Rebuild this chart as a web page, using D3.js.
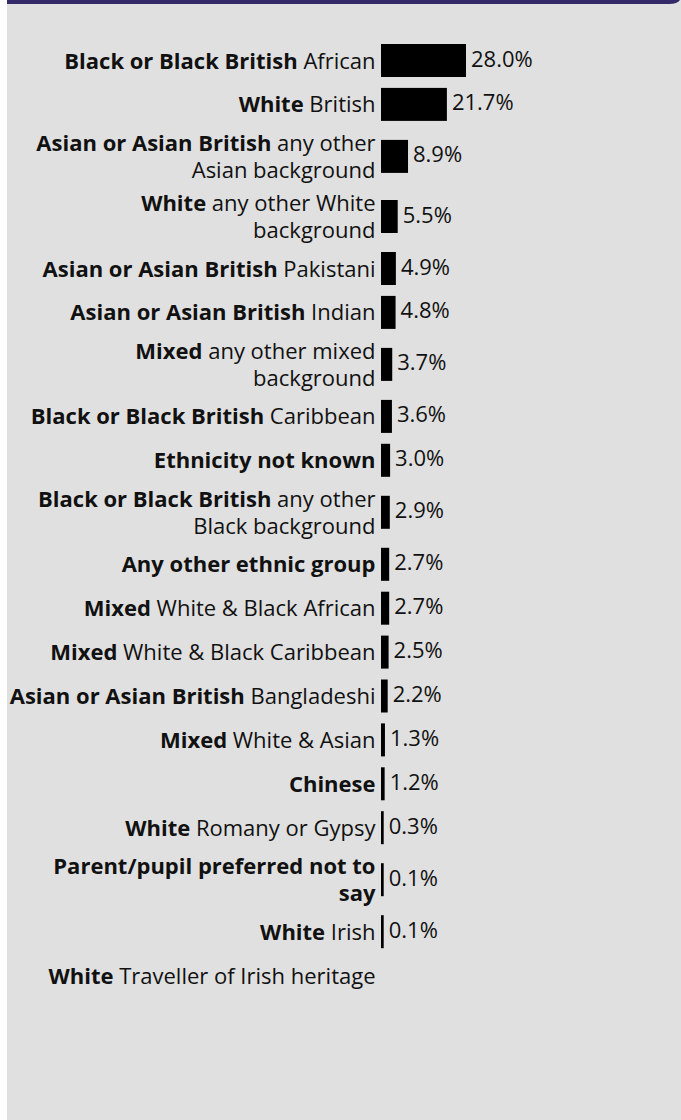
<!DOCTYPE html>
<html lang="en">
	<head>
		<meta charset="utf-8">
		<title>Pupils by ethnicity</title>
		<script src="https://cdn.jsdelivr.net/npm/d3@7"></script>
		<style>
			body { margin: 0; background: #ffffff; }
			svg { display: block; font-family: "Open Sans", sans-serif; }
		</style>
	</head>
	<body>
		<script type="text/javascript">

			//    Data: bold group name, detail text ("\n" = line break), share in %
			var groups = [
				"Black or Black British", "White", "Asian or Asian British", "White",
				"Asian or Asian British", "Asian or Asian British", "Mixed", "Black or Black British",
				"Ethnicity not known", "Black or Black British", "Any other ethnic group", "Mixed",
				"Mixed", "Asian or Asian British", "Mixed", "Chinese",
				"White", "Parent/pupil preferred not to\nsay", "White", "White"
			];
			var details = [
				"African", "British", "any other\nAsian background", "any other White\nbackground",
				"Pakistani", "Indian", "any other mixed\nbackground", "Caribbean",
				"", "any other\nBlack background", "", "White & Black African",
				"White & Black Caribbean", "Bangladeshi", "White & Asian", "",
				"Romany or Gypsy", "", "Irish", "Traveller of Irish heritage"
			];
			var values = [
				28.0, 21.7, 8.9, 5.5,
				4.9, 4.8, 3.7, 3.6,
				3.0, 2.9, 2.7, 2.7,
				2.5, 2.2, 1.3, 1.2,
				0.3, 0.1, 0.1, null
			];

			var w = 681;
			var h = 1120;
			var panelLeft = 7;
			var labelRight = 375.5;
			var barLeft = 381;
			var barH = 33;
			var rowGap = 10.9;
			var lineH = 27;
			var fontSize = 22;

			var svg = d3.select("body").append("svg").attr("width", w).attr("height", h);

			//    Grey panel + purple band on top
			svg.append("rect")
				.attr("x", panelLeft).attr("y", 0)
				.attr("width", w - panelLeft).attr("height", h)
				.attr("fill", "#e0e0e0");

			var r = 12;
			svg.append("path")
				.attr("d", "M" + panelLeft + ",0 H" + w + " V" + (4 - r + 4) +
					" Q" + w + ",4 " + (w - r) + ",4 H" + panelLeft + " Z")
				.attr("fill", "#342a6a");

			//    Turn each category into lines of {text, bold} pieces
			var rows = groups.map(function(g, i) {
				var gl = g.split("\n");
				var dl = details[i] ? details[i].split("\n") : [];
				var lines = [];
				gl.forEach(function(t) { lines.push([{text: t, bold: true}]); });
				dl.forEach(function(t, k) {
					if (k == 0) lines[lines.length - 1].push({text: " " + t, bold: false});
					else lines.push([{text: t, bold: false}]);
				});
				return {lines: lines, value: values[i]};
			});

			//    Row positions: two-line rows are taller than the bar
			var rowTop = 44;
			rows.forEach(function(d) {
				var rh = d.lines.length > 1 ? 49.2 : barH;
				d.mid = rowTop + rh / 2;
				rowTop += rh + rowGap;
			});

			var xScale = d3.scaleLinear()
				.domain([0, d3.max(values)])
				.range([0, 85]);

			var row = svg.selectAll("g.row")
				.data(rows)
				.enter()
				.append("g")
				.attr("class", "row");

			//    Labels, right aligned against the bars
			row.each(function(d) {
				var g = d3.select(this);
				var n = d.lines.length;
				d.lines.forEach(function(line, k) {
					var t = g.append("text")
						.attr("x", labelRight)
						.attr("y", d.mid + 8 + (k - (n - 1) / 2) * lineH)
						.attr("text-anchor", "end")
						.attr("font-size", fontSize)
						.attr("fill", "#111");
					line.forEach(function(p) {
						t.append("tspan")
							.attr("font-weight", p.bold ? 700 : 400)
							.style("white-space", "pre")
							.text(p.text);
					});
				});
			});

			var withValue = row.filter(function(d) { return d.value != null; });

			withValue.append("rect")
				.attr("x", barLeft)
				.attr("y", function(d) { return d.mid - barH / 2; })
				.attr("width", function(d) { return Math.max(xScale(d.value), 2.7); })
				.attr("height", barH)
				.attr("fill", "#000");

			withValue.append("text")
				.attr("x", function(d) { return barLeft + Math.max(xScale(d.value), 2.7) + 5; })
				.attr("y", function(d) { return d.mid + 6; })
				.attr("font-size", fontSize)
				.attr("fill", "#111")
				.text(function(d) { return d.value.toFixed(1) + "%"; });

		</script>
	</body>
</html>
